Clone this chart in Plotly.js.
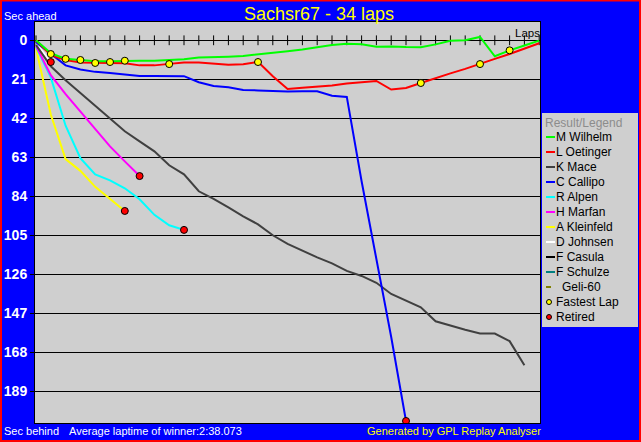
<!DOCTYPE html>
<html><head><meta charset="utf-8">
<script src="https://cdn.plot.ly/plotly-3.0.1.min.js"></script>
<style>html,body{margin:0;padding:0;background:#0000ff;overflow:hidden}#chart{width:641px;height:442px}</style>
</head><body><div id="chart"></div>
<script>
// ---------------- data ----------------
const chartTitle = 'Sachsr67 - 34 laps';
const driverNames  = ['M Wilhelm','L Oetinger','K Mace','C Callipo','R Alpen','H Marfan','A Kleinfeld','D Johnsen','F Casula','F Schulze','Geli-60'];
const driverColors = ['#00ff00','#ff0000','#404040','#0000ff','#00ffff','#ff00ff','#ffff00','#ffffff','#000000','#008080','#808000'];
// seconds behind (index = lap number, starting at lap 0)
const wilhelmSec  = [0, 7, 10, 10.6, 11.3, 11.3, 11, 11, 11, 10.6, 10.2, 9.3, 9.2, 8.8, 8.4, 7.7, 7, 5.9, 5, 3.6, 2.5, 1.9, 2.1, 3.5, 3.3, 3.6, 3.7, 2.2, 0.3, 0, -1.8, 8.6, 5.4, 2.8, 0.2];
const oetingerSec = [0, 8, 10.6, 11.9, 12.1, 12.1, 12.4, 13.5, 13.5, 12.7, 12, 12, 12.7, 13.1, 12.9, 11.6, 19.3, 26.2, 25.5, 25.1, 24.4, 23.3, 22.6, 21.9, 26.5, 25.7, 23, 20.3, 17.8, 15.4, 12.9, 10, 7.4, 4.7, 1.6];
const maceSec     = [2.5, 14, 21.5, 28.3, 35.3, 42, 49, 54.4, 59.8, 67.3, 72.2, 81.3, 85.4, 90, 94.8, 99.1, 105, 109.6, 113.4, 116.9, 120.1, 124.2, 126.9, 130.6, 136.6, 140, 143.8, 151.3, 153.7, 155.9, 157.9, 157.9, 162, 175];
const callipoSec  = [1, 7.5, 13.5, 15.7, 17, 17.6, 18.5, 19.2, 19.2, 19.2, 19.3, 22.6, 24.6, 25.3, 26.7, 27, 27.4, 27.6, 27.4, 27.4, 29.8, 30.5, 75.9, 117.3, 159.8, 205];
const alpenSec    = [3.5, 20, 46, 63.5, 72.2, 75.4, 79.7, 85.6, 94, 99.6, 102.1];
const marfanSec   = [3, 18.8, 29, 38.5, 47.8, 57.1, 65.2, 73.1];
const kleinfeldSec= [4.3, 40, 64, 70.3, 78.9, 85.6, 91.9];
const johnsenSec  = [1.5, 11.7];
const casulaSec   = [0];
const schulzeSec  = [0];
const geliSec     = [0];
const driverSecs = [wilhelmSec, oetingerSec, maceSec, callipoSec, alpenSec, marfanSec, kleinfeldSec, johnsenSec, casulaSec, schulzeSec, geliSec];
const retiredDrivers = ['D Johnsen','H Marfan','A Kleinfeld','R Alpen','C Callipo'];
const fastestLapLaps = [1, 2, 3, 4, 5, 6, 9, 15, 26, 30, 32];
const fastestLapSecs = [7.4, 10, 10.6, 12.2, 11.7, 11, 12.8, 11.7, 23, 12.8, 5.4];
const totalLaps = 34;
const yTickVals = [0, 21, 42, 63, 84, 105, 126, 147, 168, 189];
const legendExtra = ['Fastest Lap', 'Retired'];
const legendTitle = 'Result/Legend';
const topLeftText = 'Sec ahead';
const bottomLeftText = 'Sec behind';
const avgText = 'Average laptime of winner:2:38.073';
const creditText = 'Generated by GPL Replay Analyser';
const lapsLabel = 'Laps';

// ---------------- geometry ----------------
const W = 641, H = 442, ML = 35, MR = 101, MT = 22, MB = 19;
const PW = W - ML - MR, PH = H - MT - MB;
const px2x = p => (p - ML) / PW;
const py2y = p => (H - MB - p) / PH;
const FONT = 'Liberation Sans, Arial, sans-serif';

const traces = [];
// lap ticks on the zero line
const lapNumbers = [];
for (let i = 0; i <= totalLaps; i++) lapNumbers.push(i);
traces.push({x: lapNumbers, y: lapNumbers.map(() => 0), mode: 'markers', type: 'scatter',
  marker: {symbol: 'line-ns-open', size: 7, color: '#000', line: {width: 1, color: '#000'}}, hoverinfo: 'skip'});

// draw order (bottom -> top)
const drawOrder = ['F Casula','F Schulze','Geli-60','D Johnsen','A Kleinfeld','R Alpen','H Marfan','K Mace','C Callipo','L Oetinger','M Wilhelm'];
drawOrder.forEach(name => {
  const i = driverNames.indexOf(name);
  const ys = driverSecs[i];
  traces.push({x: ys.map((_, k) => k), y: ys, name: name, type: 'scatter', mode: 'lines',
    line: {color: driverColors[i], width: 2}, hoverinfo: 'skip'});
});
// fastest lap markers
traces.push({x: fastestLapLaps, y: fastestLapSecs, type: 'scatter', mode: 'markers', name: 'Fastest Lap',
  marker: {symbol: 'circle', size: 7, color: '#ffff00', line: {width: 1, color: '#000'}}, hoverinfo: 'skip'});
// retired markers
const retX = [], retY = [];
retiredDrivers.forEach(n => { const s = driverSecs[driverNames.indexOf(n)]; retX.push(s.length - 1); retY.push(s[s.length - 1]); });
traces.push({x: retX, y: retY, type: 'scatter', mode: 'markers', name: 'Retired',
  marker: {symbol: 'circle', size: 7, color: '#ff0000', line: {width: 1, color: '#000'}}, hoverinfo: 'skip'});

// ---------------- layout ----------------
const xPerLap = 14.8;
const xRange = [(ML - 36) / xPerLap, (ML + PW - 36) / xPerLap];
const yPerSec = 1.857;
const yTop = -(40.3 - MT) / yPerSec, yBot = (H - MB - 40.3) / yPerSec;

const shapes = [];
const annotations = [];
function ann(text, xpx, ypx, anchor, color, size, extra) {
  annotations.push(Object.assign({text: text, xref: 'paper', yref: 'paper', x: px2x(xpx), y: py2y(ypx),
    xanchor: anchor, yanchor: 'middle', showarrow: false, borderpad: 0, borderwidth: 0,
    font: {family: FONT, size: size, color: color}}, extra || {}));
}
ann(topLeftText, 4, 16, 'left', '#ffffff', 11);
ann(bottomLeftText, 4, 431, 'left', '#ffffff', 11);
ann(avgText, 69, 431, 'left', '#ffffff', 11);
ann(creditText, 541, 431, 'right', '#ffff00', 11);
ann(lapsLabel, 540, 33, 'right', '#000000', 11.5);

// legend box
shapes.push({type: 'rect', xref: 'paper', yref: 'paper', x0: px2x(542), x1: px2x(638), y0: py2y(113), y1: py2y(327),
  fillcolor: '#cfcfcf', line: {width: 0}, layer: 'above'});
ann(legendTitle, 545, 123, 'left', '#8c8c8c', 12);
driverNames.forEach((n, i) => {
  const yc = 137 + 15 * i;
  const isGeli = n === 'Geli-60';
  shapes.push({type: 'line', xref: 'paper', yref: 'paper', x0: px2x(546), x1: px2x(isGeli ? 551 : 555), y0: py2y(yc), y1: py2y(yc),
    line: {color: driverColors[i], width: 2}, layer: 'above'});
  ann(n, isGeli ? 562 : 556, yc, 'left', '#000000', 12);
});
const extraColors = ['#ffff00', '#ff0000'];
legendExtra.forEach((n, j) => {
  const yc = 137 + 15 * (driverNames.length + j);
  shapes.push({type: 'circle', xref: 'paper', yref: 'paper', x0: px2x(546.5), x1: px2x(551.5), y0: py2y(yc + 2.5), y1: py2y(yc - 2.5),
    fillcolor: extraColors[j], line: {color: '#000', width: 1}, layer: 'above'});
  ann(n, 556, yc, 'left', '#000000', 12);
});
// red outer frame
shapes.push({type: 'rect', xref: 'paper', yref: 'paper', x0: px2x(1), x1: px2x(640), y0: py2y(441), y1: py2y(0.5),
  line: {color: '#ff0000', width: 2}, fillcolor: 'rgba(0,0,0,0)', layer: 'above'});

const layout = {
  width: W, height: H,
  margin: {l: ML, r: MR, t: MT, b: MB, pad: 0},
  paper_bgcolor: '#0000ff', plot_bgcolor: '#cfcfcf',
  showlegend: false,
  title: {text: chartTitle, font: {family: FONT, size: 18, color: '#ffff00'}, x: 319 / W, xanchor: 'center', y: 1 - 13.5 / H, yanchor: 'middle'},
  xaxis: {range: xRange, showgrid: false, zeroline: false, showticklabels: false, ticks: '',
    showline: true, mirror: true, linecolor: '#000', linewidth: 1, fixedrange: true},
  yaxis: {range: [yBot, yTop], tickmode: 'array', tickvals: yTickVals, ticktext: yTickVals.map(String),
    showgrid: true, gridcolor: '#000', gridwidth: 1, zeroline: false,
    ticks: 'outside', ticklen: 4, tickcolor: '#000', tickwidth: 1,
    tickfont: {family: FONT, size: 14, color: '#ffffff', weight: 'bold'},
    showline: true, mirror: true, linecolor: '#000', linewidth: 1, fixedrange: true},
  shapes: shapes,
  annotations: annotations
};
Plotly.newPlot('chart', traces, layout, {staticPlot: true, displayModeBar: false});
</script></body></html>
